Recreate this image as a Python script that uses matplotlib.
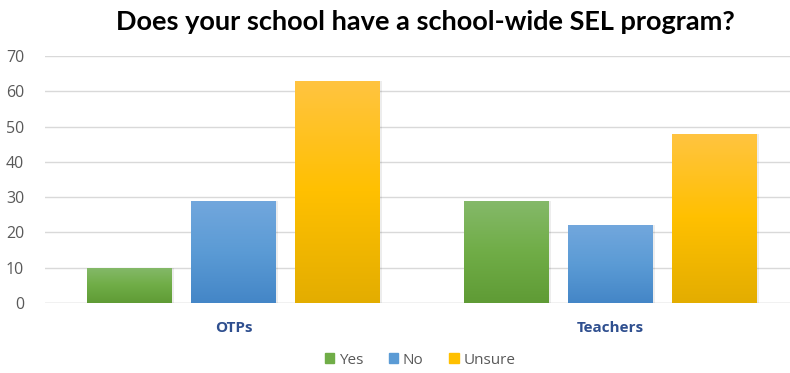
import numpy as np
import matplotlib.pyplot as plt
from matplotlib.colors import LinearSegmentedColormap

# Data
categories = ['OTPs', 'Teachers']
series = ['Yes', 'No', 'Unsure']
yes_vals = [10, 29]
no_vals = [29, 22]
unsure_vals = [63, 48]
values = [yes_vals, no_vals, unsure_vals]

# gradient colours (top, middle, bottom) per series
grads = [
    ['#85b96a', '#70ad47', '#5f9b35'],
    ['#72a7dd', '#5b9bd5', '#4486c7'],
    ['#ffc441', '#ffc000', '#e3ad00'],
]
solid = ['#70ad47', '#5b9bd5', '#ffc000']

fig = plt.figure(figsize=(7.9, 3.73), dpi=100)
ax = fig.add_axes([45 / 790, 1 - 303 / 373, 1 - 45 / 790, (303 - 56) / 373])

x = np.arange(len(categories))
width = 0.225
step = 0.276

grad_img = np.linspace(0, 1, 256).reshape(-1, 1)
for i, (name, vals) in enumerate(zip(series, values)):
    offs = (i - 1) * step
    bars = ax.bar(x + offs, vals, width, color=solid[i], label=name, zorder=2,
                  edgecolor='none')
    cmap = LinearSegmentedColormap.from_list(name, grads[i][::-1])
    for b in bars:
        x0, y0 = b.get_x(), b.get_y()
        w, h = b.get_width(), b.get_height()
        # soft shadow
        ax.bar(x0 + w / 2 + 0.004, h, w + 0.004, bottom=y0, color='#000000',
               alpha=0.07, zorder=1.9, edgecolor='none')
        im = ax.imshow(grad_img, cmap=cmap, origin='lower', aspect='auto',
                       extent=[x0, x0 + w, y0, y0 + h], zorder=2.1)
        im.set_clip_path(b)

ax.set_xlim(-0.5, 1.476)
ax.set_ylim(0, 70)
ax.set_yticks(range(0, 71, 10))
ax.grid(axis='y', color='#d9d9d9', linewidth=1, zorder=0)
ax.set_axisbelow(True)
for s in ax.spines.values():
    s.set_visible(False)
ax.axhline(0, color='#d9d9d9', linewidth=1, zorder=1)

ax.set_xticks(x)
ax.set_xticklabels(categories, fontweight='bold', color='#2f4f8f', fontsize=11,
                   family='Open Sans')
ax.tick_params(axis='x', length=0, pad=13)
ax.tick_params(axis='y', length=0, pad=15, labelcolor='#595959', labelsize=11.5)
for t in ax.get_yticklabels():
    t.set_family('Open Sans')

fig.text(425 / 790, 1 - 22 / 373, 'Does your school have a school-wide SEL program?',
         ha='center', va='center', fontsize=19.5, fontweight='bold', family='Lato')

handles = [plt.Rectangle((0, 0), 1, 1, color=c) for c in solid]
leg = fig.legend(handles, series, loc='center', bbox_to_anchor=(420 / 790, 1 - 360 / 373),
                 ncol=3, frameon=False, fontsize=11, handlelength=0.6,
                 handleheight=0.6, handletextpad=0.3, columnspacing=1.7)
for t in leg.get_texts():
    t.set_color('#595959')
    t.set_family('Open Sans')

fig.savefig('out.png', dpi=100)
